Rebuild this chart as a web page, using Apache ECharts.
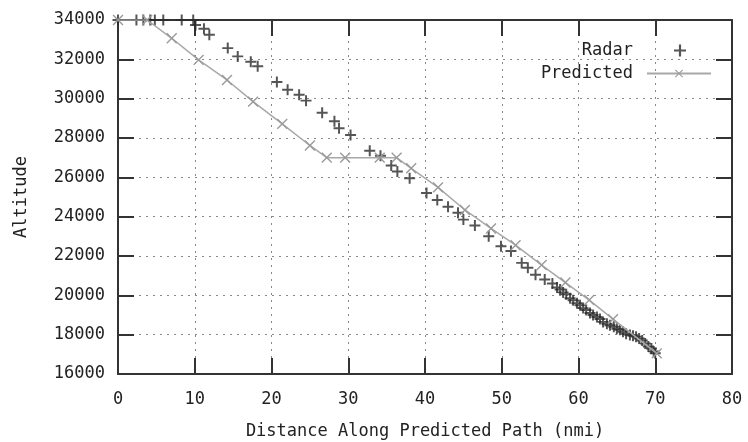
<!DOCTYPE html>
<html>
<head>
<meta charset="utf-8">
<script src="https://cdn.jsdelivr.net/npm/echarts@6/dist/echarts.min.js"></script>
<style>html,body{margin:0;padding:0;background:#fff}#c{width:748px;height:442px}</style>
</head>
<body>
<div id="c"></div>
<script>
const seriesNames = ['Radar', 'Predicted'];
const xTitle = 'Distance Along Predicted Path (nmi)';
const yTitle = 'Altitude';
const xRange = [0, 80, 10];
const yRange = [16000, 34000, 2000];

const radarDist = [0, 2.4, 3.3, 4.2, 4.8, 5.9, 8.3, 9.8, 10.1, 11.2, 11.9, 14.3, 15.6, 17.3, 18.2,
  20.7, 22.1, 23.6, 24.5, 26.6, 28.2, 28.8, 30.3, 32.8, 34.2, 35.6, 36.4, 38.0, 40.2, 41.6, 43.0,
  44.3, 45.0, 46.5, 48.3, 49.9, 51.2, 52.6, 53.4, 54.4, 55.6, 56.6, 57.2, 57.6, 58.0, 58.4, 58.9,
  59.3, 59.8, 60.2, 60.6, 61.0, 61.5, 61.9, 62.4, 62.8, 63.2, 63.7, 64.1, 64.6, 65.0, 65.4, 65.8,
  66.2, 66.7, 67.1, 67.5, 67.9, 68.3, 68.7, 69.1, 69.5, 69.8, 70.0];
const radarAlt = [34000, 34000, 34000, 34000, 34000, 34000, 34000, 34000, 33750, 33550, 33250, 32570, 32150, 31880, 31650,
  30850, 30450, 30200, 29900, 29280, 28850, 28500, 28150, 27350, 27100, 26600, 26300, 25950, 25200, 24850, 24500,
  24200, 23850, 23550, 23000, 22500, 22250, 21650, 21400, 21050, 20800, 20600, 20400, 20300, 20150, 20050, 19850,
  19750, 19600, 19500, 19350, 19250, 19100, 19000, 18900, 18800, 18650, 18550, 18480, 18400, 18300, 18250, 18150,
  18050, 17980, 17950, 17900, 17800, 17700, 17550, 17400, 17300, 17150, 17050];

const predDist = [0, 3.8, 7.0, 10.5, 14.2, 17.6, 21.4, 25.0, 27.2, 29.6, 34.1, 36.3, 38.2, 41.7, 45.2, 48.6, 51.8, 55.2, 58.3, 61.4, 64.5, 70.2];
const predAlt = [34000, 34000, 33070, 31970, 30950, 29850, 28720, 27620, 27000, 27000, 27000, 27000, 26460, 25490, 24340, 23400, 22550, 21540, 20650, 19760, 18790, 17050];

const FONT = 'DejaVu Sans Mono';
const TXT = '#222';
const FS = 17;
const plusPath = 'path://M4.1,0H5.9V10H4.1Z M0,4.1H10V5.9H0Z';
const thinPlusPath = 'path://M4.5,0H5.5V10H4.5Z M0,4.5H10V5.5H0Z';

const chart = echarts.init(document.getElementById('c'), null, {renderer: 'canvas'});
const gridLine = {show: true, lineStyle: {color: '#888', type: [2, 5], width: 1}};
const axisLineS = {show: true, onZero: false, lineStyle: {color: '#333', width: 2}};
const tickS = {show: true, inside: true, length: 16, lineStyle: {color: '#333', width: 2}};

chart.setOption({
  animation: false,
  backgroundColor: '#fff',
  grid: {left: 118, right: 16, top: 20, bottom: 68, containLabel: false, outerBoundsMode: 'none'},
  xAxis: [{
    type: 'value', min: xRange[0], max: xRange[1], interval: xRange[2], position: 'bottom',
    name: xTitle, nameLocation: 'middle', nameGap: 49,
    nameTextStyle: {fontFamily: FONT, fontSize: FS, color: TXT},
    axisLine: axisLineS, axisTick: tickS, splitLine: gridLine,
    axisLabel: {fontFamily: FONT, fontSize: FS, color: TXT, margin: 17}
  }, {
    type: 'value', min: xRange[0], max: xRange[1], interval: xRange[2], position: 'top',
    axisLine: axisLineS, axisTick: tickS, splitLine: {show: false}, axisLabel: {show: false}
  }],
  yAxis: [{
    type: 'value', min: yRange[0], max: yRange[1], interval: yRange[2], position: 'left',
    name: yTitle, nameLocation: 'middle', nameGap: 88, nameRotate: 90,
    nameTextStyle: {fontFamily: FONT, fontSize: FS, color: TXT},
    axisLine: axisLineS, axisTick: tickS, splitLine: gridLine,
    axisLabel: {fontFamily: FONT, fontSize: FS, color: TXT, margin: 13, formatter: v => String(v)}
  }, {
    type: 'value', min: yRange[0], max: yRange[1], interval: yRange[2], position: 'right',
    axisLine: axisLineS, axisTick: tickS, splitLine: {show: false}, axisLabel: {show: false}
  }],
  legend: [{
    data: [seriesNames[0]], right: 57, top: 37, align: 'right', itemWidth: 12, itemHeight: 12,
    textStyle: {fontFamily: FONT, fontSize: FS, color: TXT, padding: [0, 36, 0, 0]}
  }, {
    data: [seriesNames[1]], right: 31, top: 60, align: 'right', itemWidth: 64, itemHeight: 13,
    textStyle: {fontFamily: FONT, fontSize: FS, color: TXT, padding: [0, 9, 0, 0]}
  }],
  series: [{
    name: seriesNames[0], type: 'scatter', symbol: plusPath, symbolSize: 11, symbolKeepAspect: true,
    itemStyle: {color: '#2a2a2a'},
    data: radarDist.map((d, i) => [d, radarAlt[i]])
  }, {
    name: seriesNames[1], type: 'line', symbol: thinPlusPath, symbolSize: 14, symbolRotate: 45,
    symbolKeepAspect: true, showAllSymbol: true,
    itemStyle: {color: '#9a9a9a'}, lineStyle: {color: '#a8a8a8', width: 1.5},
    data: predDist.map((d, i) => [d, predAlt[i]])
  }]
});
</script>
</body>
</html>
